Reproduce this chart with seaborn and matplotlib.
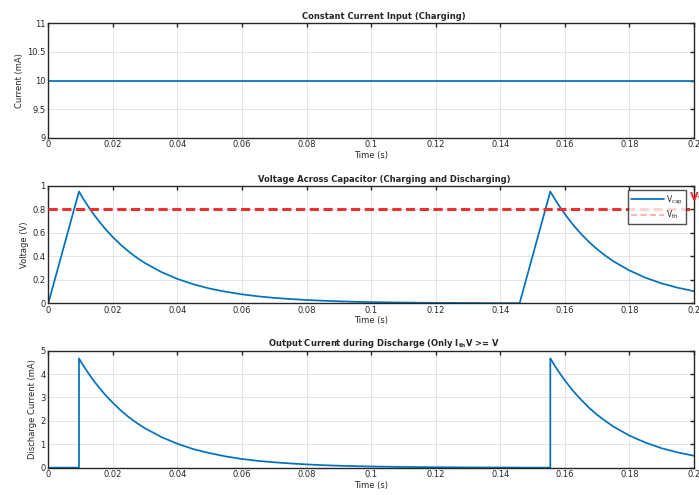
import numpy as np
import pandas as pd
import matplotlib
matplotlib.use("Agg")
import matplotlib.pyplot as plt
import seaborn as sns

# ---- data ----
t_input = [0.0, 0.2]
i_input = [10.0, 10.0]

t_v = [0.0, 0.0095, 0.011, 0.0125, 0.014, 0.015, 0.0175, 0.02, 0.0225, 0.025, 0.0275,
       0.03, 0.035, 0.04, 0.045, 0.05, 0.055, 0.06, 0.065, 0.07, 0.075, 0.08, 0.085,
       0.09, 0.095, 0.1, 0.11, 0.12, 0.13, 0.14, 0.146, 0.1555, 0.157, 0.158, 0.16,
       0.1625, 0.165, 0.1675, 0.17, 0.1725, 0.175, 0.18, 0.185, 0.19, 0.195, 0.2]
v_cap = [0.0, 0.95, 0.881, 0.818, 0.759, 0.722, 0.637, 0.562, 0.496, 0.438, 0.386,
         0.341, 0.266, 0.207, 0.161, 0.125, 0.098, 0.076, 0.059, 0.046, 0.036, 0.028, 0.022,
         0.017, 0.013, 0.010, 0.006, 0.004, 0.002, 0.001, 0.001, 0.95, 0.881, 0.838, 0.759,
         0.669, 0.591, 0.521, 0.460, 0.406, 0.358, 0.279, 0.217, 0.169, 0.132, 0.103]

v_th = 0.8

t_i = [0.0, 0.0095, 0.0095, 0.011, 0.0125, 0.014, 0.015, 0.0175, 0.02, 0.0225, 0.025,
       0.0275, 0.03, 0.035, 0.04, 0.045, 0.05, 0.055, 0.06, 0.065, 0.07, 0.075, 0.08,
       0.085, 0.09, 0.095, 0.1, 0.11, 0.12, 0.13, 0.14, 0.146, 0.146, 0.1555, 0.1555,
       0.157, 0.158, 0.16, 0.1625, 0.165, 0.1675, 0.17, 0.1725, 0.175, 0.18, 0.185,
       0.19, 0.195, 0.2]
i_out = [0.0, 0.0, 4.67, 4.33, 4.02, 3.73, 3.55, 3.13, 2.77, 2.44, 2.15,
         1.90, 1.68, 1.31, 1.02, 0.79, 0.62, 0.48, 0.37, 0.29, 0.23, 0.18, 0.14,
         0.107, 0.084, 0.065, 0.051, 0.031, 0.019, 0.011, 0.007, 0.005, 0.0, 0.0, 4.67,
         4.33, 4.12, 3.73, 3.29, 2.91, 2.56, 2.26, 2.00, 1.76, 1.37, 1.07,
         0.83, 0.65, 0.51]

x_ticks = [0, 0.02, 0.04, 0.06, 0.08, 0.1, 0.12, 0.14, 0.16, 0.18, 0.2]
x_ticklabels = ["0", "0.02", "0.04", "0.06", "0.08", "0.1", "0.12", "0.14", "0.16", "0.18", "0.2"]

sns.set_style("white")
plt.rcParams['font.family'] = ['DejaVu Sans']
plt.rcParams['mathtext.default'] = 'regular'

BLUE = "#0072BD"
RED = "#f03030"
FS = 6

fig = plt.figure(figsize=(6.99, 4.95), dpi=100)
L, W = 0.0691, 0.9237
ax1 = fig.add_axes([L, 0.7218, W, 0.2311])
ax2 = fig.add_axes([L, 0.3873, W, 0.2376])
ax3 = fig.add_axes([L, 0.0552, W, 0.2364])

df1 = pd.DataFrame({"t": t_input, "i": i_input})
df2 = pd.DataFrame({"t": t_v, "v": v_cap})
df3 = pd.DataFrame({"t": t_i, "i": i_out})

LW = 1.25
sns.lineplot(data=df1, x="t", y="i", ax=ax1, color=BLUE, lw=LW, estimator=None, sort=False)
sns.lineplot(data=df2, x="t", y="v", ax=ax2, color=BLUE, lw=LW, estimator=None, sort=False,
             label="V$_{cap}$")
ax2.axhline(v_th, color=RED, lw=2.2, ls=(0, (3, 1.5)), label="V$_{th}$", zorder=3)
sns.lineplot(data=df3, x="t", y="i", ax=ax3, color=BLUE, lw=LW, estimator=None, sort=False)

def style(ax, yticks, yticklabels, ylim, title, ylabel):
    ax.set_xlim(0, 0.2)
    ax.set_ylim(*ylim)
    ax.set_xticks(x_ticks)
    ax.set_xticklabels(x_ticklabels, fontsize=FS)
    ax.set_yticks(yticks)
    ax.set_yticklabels(yticklabels, fontsize=FS)
    ax.grid(True, color="#e4e4e4", lw=0.7)
    ax.set_axisbelow(True)
    ax.tick_params(direction="in", length=3, width=1, top=True, right=True,
                   color="#262626", pad=2, labelcolor="#262626")
    for s in ax.spines.values():
        s.set_color("#262626")
        s.set_linewidth(1.0)
        s.set_visible(True)
    ax.set_xlabel("Time (s)", fontsize=FS, labelpad=1, color="#262626")
    ax.set_ylabel(ylabel, fontsize=FS, labelpad=2, color="#262626")
    ax.set_title(title, fontsize=FS, fontweight="bold", pad=3, x=0.52)

style(ax1, [9, 9.5, 10, 10.5, 11], ["9", "9.5", "10", "10.5", "11"], (9, 11),
      "Constant Current Input (Charging)", "Current (mA)")
style(ax2, [0, 0.2, 0.4, 0.6, 0.8, 1], ["0", "0.2", "0.4", "0.6", "0.8", "1"], (0, 1),
      "Voltage Across Capacitor (Charging and Discharging)", "Voltage (V)")
style(ax3, [0, 1, 2, 3, 4, 5], ["0", "1", "2", "3", "4", "5"], (0, 5),
      "Output Current during Discharge (Only I$_{th}$V >= V", "Discharge Current (mA)")

ax2.text(0.1985, 0.9, "V$_{th}$", color=RED, fontsize=8, fontweight="bold", va="center",
         ha="left", clip_on=False)

leg = ax2.legend(loc="upper right", fontsize=5.5, frameon=True, fancybox=False,
                 edgecolor="#262626", handlelength=4.2, borderpad=0.4, labelspacing=0.3,
                 handletextpad=0.3, borderaxespad=0.0, bbox_to_anchor=(0.987, 0.96))
leg.get_frame().set_linewidth(1.0)
for h in leg.get_lines():
    if h.get_color() == RED:
        h.set_alpha(0.35)
        h.set_linewidth(1.5)

fig.savefig("out.png", dpi=100)
